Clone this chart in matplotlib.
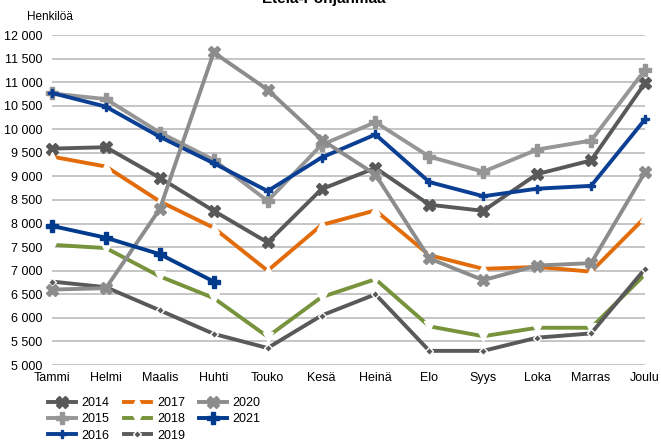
import matplotlib.pyplot as plt

plt.rcParams['font.family'] = ['Liberation Sans', 'DejaVu Sans']

months = ['Tammi', 'Helmi', 'Maalis', 'Huhti', 'Touko', 'Kesä',
          'Heinä', 'Elo', 'Syys', 'Loka', 'Marras', 'Joulu']

v2014 = [9590, 9620, 8970, 8270, 7600, 8730, 9180, 8400, 8270, 9050, 9340, 10980]
v2015 = [10760, 10640, 9930, 9350, 8480, 9670, 10150, 9420, 9100, 9570, 9760, 11260]
v2016 = [10770, 10480, 9840, 9280, 8690, 9400, 9890, 8880, 8580, 8740, 8800, 10210]
v2017 = [9420, 9210, 8470, 7910, 7000, 7970, 8280, 7330, 7040, 7080, 6980, 8130]
v2018 = [7550, 7480, 6880, 6420, 5600, 6440, 6820, 5820, 5610, 5790, 5790, 6920]
v2019 = [6770, 6650, 6160, 5660, 5360, 6050, 6500, 5300, 5300, 5580, 5670, 7040]
v2020 = [6600, 6630, 8310, 11630, 10840, 9780, 9040, 7260, 6800, 7110, 7160, 9090]
v2021 = [7950, 7700, 7350, 6770]

fig = plt.figure(figsize=(6.61, 4.43), dpi=100)
ax = fig.add_axes([52 / 661, (443 - 365) / 443, (645 - 52) / 661, 330 / 443])

x = list(range(12))
# (label, values, colour, marker, marker size, marker face, marker edge)
series = [
    ('2014', v2014, '#595959', 'X', 9, '#595959', '#595959'),
    ('2015', v2015, '#969696', 'P', 8, '#969696', '#969696'),
    ('2016', v2016, '#0b3f94', 'P', 6, '#0b3f94', '#0b3f94'),
    ('2017', v2017, '#e36c0a', '^', 7, 'white', 'white'),
    ('2018', v2018, '#77933c', 'v', 7, 'white', 'white'),
    ('2019', v2019, '#595959', 'D', 4, '#595959', 'white'),
    ('2020', v2020, '#8c8c8c', 'X', 9, '#8c8c8c', '#8c8c8c'),
    ('2021', v2021, '#003a8c', 'P', 9, '#003a8c', '#003a8c'),
]
for label, vals, col, mk, ms, mfc, mec in series:
    ax.plot(x[:len(vals)], vals, color=col, lw=2.8, marker=mk, ms=ms,
            mfc=mfc, mec=mec, mew=1.0, label=label, clip_on=False)

ax.set_xlim(0, 11)
ax.set_ylim(5000, 12000)
ax.set_yticks(range(5000, 12001, 500))
ax.set_yticklabels([f'{v:,}'.replace(',', ' ') for v in range(5000, 12001, 500)])
ax.set_xticks(x)
ax.set_xticklabels(months)
ax.tick_params(length=0, labelsize=9, colors='black')
ax.tick_params(axis='y', pad=7)
ax.tick_params(axis='x', pad=5)
ax.grid(axis='y', color='#c0c0c0', lw=1.3)
ax.set_axisbelow(True)
for s in ax.spines.values():
    s.set_visible(False)

fig.text(27 / 661, 1 - 17 / 443, 'Henkilöä', fontsize=8.5, va='center')
# title sits partly above the top edge, as in the source image
fig.text(324 / 661, 1 - 3 / 443, 'Etelä-Pohjanmaa', fontsize=11,
         fontweight='bold', ha='center', va='baseline')

fig.legend(loc='upper left', bbox_to_anchor=(48 / 661, 1 - 397 / 443), ncol=3,
           frameon=False, fontsize=9, handlelength=2.2, handletextpad=0.5,
           columnspacing=1.1, labelspacing=0.35, borderpad=0, borderaxespad=0)

fig.savefig('out.png', dpi=100)
